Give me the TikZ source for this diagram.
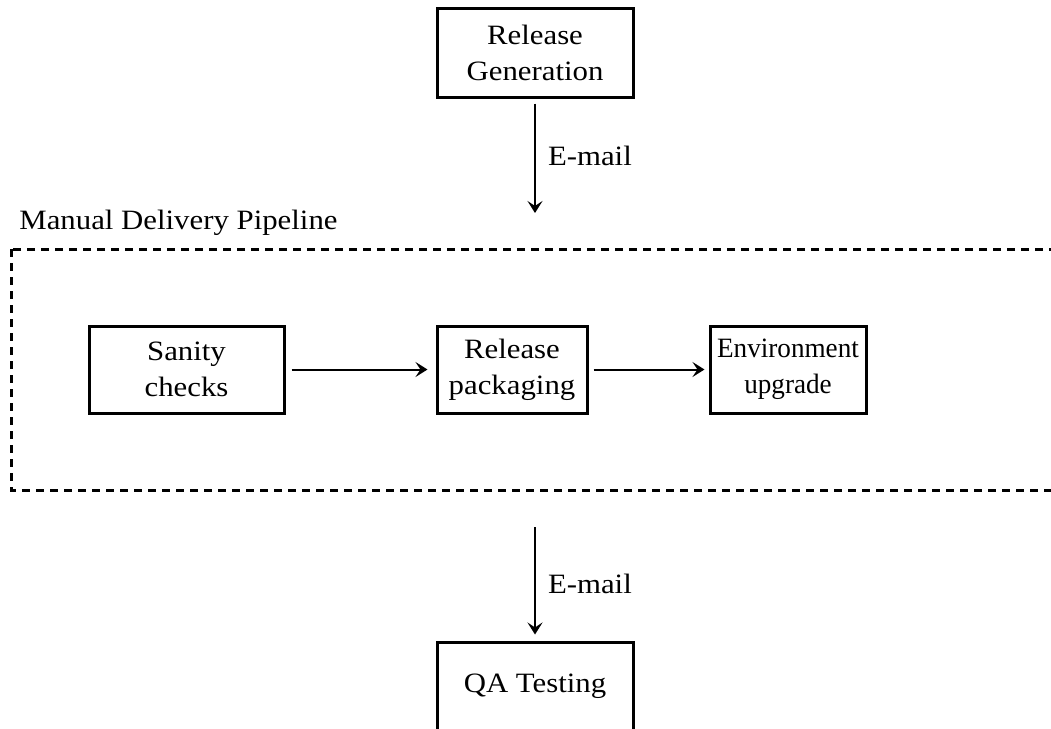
\documentclass[tikz,border=0pt]{standalone}
\usepackage{fontspec}
\setmainfont[FakeStretch=1.1]{Liberation Serif}
\newfontfamily\envfont[FakeStretch=0.97]{Liberation Serif}
\usetikzlibrary{arrows.meta}
\begin{document}
\begin{tikzpicture}[x=0.5pt,y=-0.5pt,
  txt/.style={font=\fontsize{14}{18}\selectfont},
  box/.style={draw, line width=1.5pt, align=center, inner sep=0pt, txt},
  arr/.style={draw, line width=1pt, -{Stealth[length=6pt,width=7.5pt,inset=2.5pt]}},
  lab/.style={right=6pt, inner sep=0pt, txt},
  dashbox/.style={draw, line width=1.5pt, dash pattern=on 4pt off 3pt}]
\useasboundingbox (0,0) rectangle (1051,729);
\node[box, minimum width=98pt, minimum height=44.5pt] (rg) at (535,52.5) {Release\\Generation};
\coordinate (in) at (535,213);
\draw[arr, shorten <=2.5pt] (rg) -- node[lab]{E-mail} (in);
\node[anchor=base west, inner sep=0pt, txt] (title) at (19,229) {Manual Delivery Pipeline};
\draw[dashbox] (11,249) rectangle (1070,490);
\node[box, minimum width=97.5pt, minimum height=43.5pt] (san) at (186.5,369.5) {Sanity\\checks};
\node[box, minimum width=75pt, minimum height=43.5pt] (pack) at (512,369.5) {Release\\packaging};
\node[box, minimum width=78pt, minimum height=43.5pt, font=\envfont\fontsize{14}{18}\selectfont] (env) at (788,369.5) {Environment\\upgrade};
\draw[arr, shorten <=3pt, shorten >=4pt] (san) -- (pack);
\draw[arr, shorten <=2.5pt, shorten >=2pt] (pack) -- (env);
\node[box, minimum width=98pt, minimum height=44.5pt] (qa) at (535,686.5) {QA Testing};
\coordinate (out) at (535,527);
\draw[arr, shorten >=3pt] (out) -- node[lab]{E-mail} (qa);
\end{tikzpicture}
\end{document}
